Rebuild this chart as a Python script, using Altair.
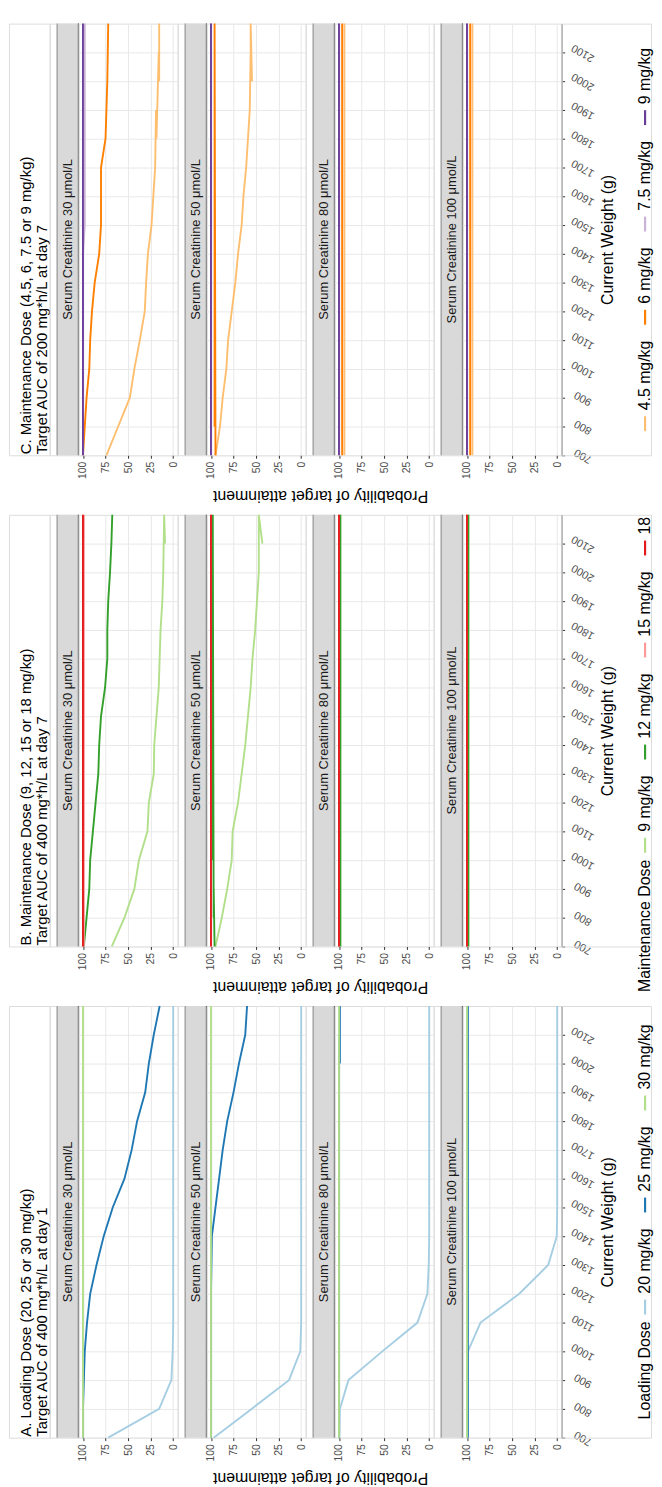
import altair as alt
import pandas as pd

FONT = "Liberation Sans, Arial, Helvetica, sans-serif"

# ---------------- data ----------------
weights = [700, 800, 900, 1000, 1100, 1200, 1300, 1400, 1500, 1600, 1700, 1800, 1900, 2000, 2100, 2200]
creatinine = ["Serum Creatinine 30 \u03bcmol/L", "Serum Creatinine 50 \u03bcmol/L",
              "Serum Creatinine 80 \u03bcmol/L", "Serum Creatinine 100 \u03bcmol/L"]
weight_ticks = [700, 800, 900, 1000, 1100, 1200, 1300, 1400, 1500, 1600, 1700, 1800, 1900, 2000, 2100]
prob_ticks = [0, 25, 50, 75, 100]

# Panel A: loading dose
a_doses = ["20 mg/kg", "25 mg/kg", "30 mg/kg"]
a_colors = ["#a6cee3", "#1f78b4", "#b2df8a"]
a30_20 = [72, 15.5, 2, 0.5, 0, 0, 0, 0, 0, 0, 0, 0, 0, 0, 0, 0]
a30_25 = [100, 100, 99, 98, 95.5, 92, 85, 77, 67, 54, 46, 40, 31, 27, 21.5, 15]
a30_30 = [100, 100, 100, 100, 100, 100, 100, 100, 100, 100, 100, 100, 100, 100, 100, 100]
a50_20 = [97, 55, 13.5, 1, 0, 0, 0, 0, 0, 0, 0, 0, 0, 0, 0, 0]
a50_25 = [100, 100, 100, 100, 100, 100, 99.5, 99, 95, 91, 87, 82, 75, 69, 62, 60]
a50_30 = [100, 100, 100, 100, 100, 100, 100, 100, 100, 100, 100, 100, 100, 100, 100, 100]
a80_20 = [99.5, 99, 89.5, 52, 13, 2, 0.5, 0, 0, 0, 0, 0, 0, 0, 0, 0]
a80_25 = [100, 100, 100, 100, 100, 100, 100, 100, 100, 100, 100, 100, 100, 99, 100, 99]
a80_30 = [100, 100, 100, 100, 100, 100, 100, 100, 100, 100, 100, 100, 100, 100, 100, 100]
a100_20 = [99.5, 99.5, 99.5, 99, 85, 42, 10, 0.5, 0, 0, 0, 0, 0, 0, 0, 0]
a100_25 = [99, 99, 99, 99, 99, 99, 99, 99, 99, 99, 99, 99, 99, 99, 99, 99]
a100_30 = [100, 100, 100, 100, 100, 100, 100, 100, 100, 100, 100, 100, 100, 100, 100, 100]

# Panel B: maintenance dose, target AUC 400
b_doses = ["9 mg/kg", "12 mg/kg", "15 mg/kg", "18 mg/kg"]
b_colors = ["#b2df8a", "#33a02c", "#fb9a99", "#e31a1c"]
b30_9 = [68, 54, 43, 38, 28.5, 27, 21.5, 21, 18.5, 16, 15, 14, 12, 11, 9, 10]
b30_12 = [99, 96, 93, 92, 89, 86, 83, 82, 80, 75.5, 73, 73, 72, 70, 68.5, 67.5]
b30_15 = [99, 99, 99, 99, 99, 99, 99, 99, 99, 99, 99, 99, 99, 99, 99, 99]
b30_18 = [100, 100, 100, 100, 100, 100, 100, 100, 100, 100, 100, 100, 100, 100, 100, 100]
b50_9 = [95, 88, 82, 77, 76, 70, 66, 62, 59, 56, 54, 51, 49, 47, 43, 47]
b50_12 = [96, 97, 97, 98, 98, 98, 98, 98, 98, 98, 98, 98, 98, 98, 98, 98]
b50_15 = [100, 100, 100, 100, 100, 100, 100, 100, 100, 100, 100, 100, 100, 100, 100, 100]
b50_18 = [100, 100, 100, 100, 100, 100, 100, 100, 100, 100, 100, 100, 100, 100, 100, 100]
b80_9 = [98.5, 98.5, 98.5, 98.5, 98.5, 98.5, 98.5, 98.5, 98.5, 98.5, 98.5, 98.5, 98.5, 98.5, 98.5, 98.5]
b80_12 = [98.5, 98.5, 98.5, 98.5, 98.5, 98.5, 98.5, 98.5, 98.5, 98.5, 98.5, 98.5, 98.5, 98.5, 98.5, 98.5]
b80_15 = [100, 100, 100, 100, 100, 100, 100, 100, 100, 100, 100, 100, 100, 100, 100, 100]
b80_18 = [100, 100, 100, 100, 100, 100, 100, 100, 100, 100, 100, 100, 100, 100, 100, 100]
b100_9 = [98.5, 98.5, 98.5, 98.5, 98.5, 98.5, 98.5, 98.5, 98.5, 98.5, 98.5, 98.5, 98.5, 98.5, 98.5, 98.5]
b100_12 = [98.5, 98.5, 98.5, 98.5, 98.5, 98.5, 98.5, 98.5, 98.5, 98.5, 98.5, 98.5, 98.5, 98.5, 98.5, 98.5]
b100_15 = [100, 100, 100, 100, 100, 100, 100, 100, 100, 100, 100, 100, 100, 100, 100, 100]
b100_18 = [100, 100, 100, 100, 100, 100, 100, 100, 100, 100, 100, 100, 100, 100, 100, 100]

# Panel C: maintenance dose, target AUC 200
c_doses = ["4.5 mg/kg", "6 mg/kg", "7.5 mg/kg", "9 mg/kg"]
c_colors = ["#fdbf6f", "#ff7f00", "#cab2d6", "#6a3d9a"]
c30_45 = [74, 61, 48, 43, 37, 31.5, 30, 28, 24, 22, 20, 18.5, 19, 15.5, 16, 15.5]
c30_6 = [100, 98, 96, 93, 92, 90, 87, 82, 80, 80, 80, 75, 74, 73, 72.5, 72]
c30_75 = [100, 100, 100, 100, 100, 100, 100, 100, 98, 98, 98, 98, 98, 98, 98, 98]
c30_9 = [100, 100, 100, 100, 100, 100, 100, 100, 100, 100, 100, 100, 100, 100, 100, 100]
c50_45 = [95, 90, 87, 83, 81, 77, 73, 70, 66, 64, 61, 59, 57, 54.5, 56, 56]
c50_6 = [95, 96, 96, 96, 96, 96, 96, 96, 96, 96, 96, 96, 96, 96, 96, 96]
c50_75 = [100, 100, 100, 100, 100, 100, 100, 100, 100, 100, 100, 100, 100, 100, 100, 100]
c50_9 = [100, 100, 100, 100, 100, 100, 100, 100, 100, 100, 100, 100, 100, 100, 100, 100]
c80_45 = [94, 94, 94, 94, 94, 94, 94, 94, 94, 94, 94, 94, 94, 94, 94, 94]
c80_6 = [96.5, 96.5, 96.5, 96.5, 96.5, 96.5, 96.5, 96.5, 96.5, 96.5, 96.5, 96.5, 96.5, 96.5, 96.5, 96.5]
c80_75 = [100, 100, 100, 100, 100, 100, 100, 100, 100, 100, 100, 100, 100, 100, 100, 100]
c80_9 = [100, 100, 100, 100, 100, 100, 100, 100, 100, 100, 100, 100, 100, 100, 100, 100]
c100_45 = [94, 94, 94, 94, 94, 94, 94, 94, 94, 94, 94, 94, 94, 94, 94, 94]
c100_6 = [96.5, 96.5, 96.5, 96.5, 96.5, 96.5, 96.5, 96.5, 96.5, 96.5, 96.5, 96.5, 96.5, 96.5, 96.5, 96.5]
c100_75 = [100, 100, 100, 100, 100, 100, 100, 100, 100, 100, 100, 100, 100, 100, 100, 100]
c100_9 = [100, 100, 100, 100, 100, 100, 100, 100, 100, 100, 100, 100, 100, 100, 100, 100]

a_title = ["A. Loading Dose (20, 25 or 30 mg/kg)", "Target AUC of 400 mg*h/L at day 1"]
b_title = ["B. Maintenance Dose (9, 12, 15 or 18 mg/kg)", "Target AUC of 400 mg*h/L at day 7"]
c_title = ["C. Maintenance Dose (4.5, 6, 7.5 or 9 mg/kg)", "Target AUC of 200 mg*h/L at day 7"]

# ---------------- layout constants ----------------
PLOT_W = 100
PLOT_H = 435
STRIP_W = 22
GAP = 7
TITLE_W = 41
LEG_W = 90
LEG_X = 84

EM = {" ": .278, ".": .278, ",": .278, "/": .278, "(": .333, ")": .333, "m": .833, "g": .556,
      "k": .5, "L": .556, "o": .556, "a": .556, "d": .556, "i": .222, "n": .556, "D": .722,
      "s": .5, "e": .556, "M": .833, "t": .278, "c": .5}


def text_len(s, fs):
    return sum(EM.get(ch, 0.556) for ch in s) * fs


def strip(label):
    base = alt.Chart(pd.DataFrame({"t": [label]}))
    bg = base.mark_rect(color="#d9d9d9").encode(
        x=alt.value(GAP), x2=alt.value(GAP + STRIP_W), y=alt.value(0), y2=alt.value(PLOT_H))
    lb = base.mark_rule(color="#8c8c8c", strokeWidth=1).encode(
        x=alt.value(GAP + 0.5), y=alt.value(0), y2=alt.value(PLOT_H))
    rb = base.mark_rule(color="#333333", strokeWidth=1.2).encode(
        x=alt.value(GAP + STRIP_W), y=alt.value(0), y2=alt.value(PLOT_H))
    tx = base.mark_text(angle=270, align="center", baseline="middle", fontSize=13,
                        font=FONT, color="#1a1a1a").encode(
        text="t:N", x=alt.value(GAP + STRIP_W / 2 + 0.5), y=alt.value(PLOT_H / 2))
    return alt.layer(bg, lb, rb, tx).properties(width=GAP + STRIP_W, height=PLOT_H)


def plot(series, colors, idx):
    xscale = alt.Scale(domain=[-5, 105], reverse=True, nice=False, zero=False)
    yscale = alt.Scale(domain=[700, 2200], nice=False, zero=False)
    xa = dict(values=prob_ticks, labelAngle=270, labelAlign="right", labelBaseline="middle",
              labelFontSize=10.5, labelColor="#4d4d4d", labelPadding=3, tickSize=3,
              tickColor="#333333", domain=False, grid=True, gridColor="#e8e8e8", gridWidth=1,
              labelFont=FONT, format="d")
    if idx == 0:
        xa.update(title="Probability of target attainment", titleX=243.5, titleY=40,
                  titleAngle=180, titleAlign="center", titleBaseline="middle",
                  titleFontSize=16, titleFontWeight="normal", titleColor="#000000",
                  titleFont=FONT)
    else:
        xa.update(title=None)
    xaxis = alt.Axis(**xa)
    if idx == 3:
        yaxis = alt.Axis(orient="right", values=weight_ticks, format="d", labelAngle=210,
                         labelAlign="center", labelBaseline="middle", labelPadding=18,
                         labelFontSize=11, labelColor="#4d4d4d", labelFont=FONT,
                         tickSize=3, tickColor="#333333", domain=True,
                         domainColor="#333333", grid=True, gridColor="#e8e8e8", gridWidth=1,
                         title="Current Weight (g)", titleX=46, titleY=PLOT_H / 2,
                         titleAngle=270, titleAlign="center", titleBaseline="middle",
                         titleFontSize=16, titleFontWeight="normal", titleColor="#000000",
                         titleFont=FONT)
    else:
        yaxis = alt.Axis(values=weight_ticks, labels=False, ticks=False, domain=False,
                         grid=True, gridColor="#e8e8e8", gridWidth=1, title=None)
    layers = []
    for vals, col in zip(series, colors):
        df = pd.DataFrame({"weight": weights, "prob": vals})
        layers.append(alt.Chart(df).mark_line(color=col, strokeWidth=1.9).encode(
            x=alt.X("prob:Q", scale=xscale, axis=xaxis),
            y=alt.Y("weight:Q", scale=yscale, axis=yaxis)))
    return alt.layer(*layers).properties(width=PLOT_W, height=PLOT_H)


def title_col(lines):
    base = alt.Chart(pd.DataFrame({"t": [lines[0]], "u": [lines[1]]}))
    t1 = base.mark_text(angle=270, align="left", baseline="middle", fontSize=15,
                        font=FONT, color="#000000").encode(
        text="t:N", x=alt.value(17), y=alt.value(PLOT_H - 1))
    t2 = base.mark_text(angle=270, align="left", baseline="middle", fontSize=15,
                        font=FONT, color="#000000").encode(
        text="u:N", x=alt.value(33), y=alt.value(PLOT_H - 1))
    return alt.layer(t1, t2).properties(width=TITLE_W, height=PLOT_H)


def legend_col(title, labels, colors, shown):
    fs = 16
    key, kg, eg, tg = 15, 6, 16, 7
    lens = [text_len(l, fs) for l in labels]
    total = sum(key + kg + L for L in lens) + eg * (len(labels) - 1)
    if title:
        total += text_len(title, fs) + tg
    pos = PLOT_H / 2 + total / 2
    texts, keys = [], []
    if title:
        texts.append({"t": title, "y": pos})
        pos -= text_len(title, fs) + tg
    for L, c, sh in zip(lens, colors, shown):
        keys.append({"y1": pos, "y2": pos - key, "c": c})
        pos -= key + kg
        texts.append({"t": sh, "y": pos})
        pos -= L + eg
    tx = alt.Chart(pd.DataFrame(texts)).mark_text(
        angle=270, align="left", baseline="middle", fontSize=fs, font=FONT,
        color="#000000").encode(text="t:N", y=alt.Y("y:Q", scale=None), x=alt.value(LEG_X))
    kk = alt.Chart(pd.DataFrame(keys)).mark_rule(strokeWidth=2.2).encode(
        y=alt.Y("y1:Q", scale=None), y2="y2:Q", x=alt.value(LEG_X),
        color=alt.Color("c:N", scale=None))
    return alt.layer(kk, tx).properties(width=LEG_W, height=PLOT_H)


def panel(title, facet_series, colors, leg_title, leg_labels, leg_shown):
    cells = [title_col(title)]
    for i, series in enumerate(facet_series):
        cells.append(strip(creatinine[i]))
        cells.append(plot(series, colors, i))
    cells.append(legend_col(leg_title, leg_labels, colors, leg_shown))
    return cells


cells_c = panel(c_title,
                [[c30_45, c30_6, c30_75, c30_9], [c50_45, c50_6, c50_75, c50_9],
                 [c80_45, c80_6, c80_75, c80_9], [c100_45, c100_6, c100_75, c100_9]],
                c_colors, None, c_doses, c_doses)
cells_b = panel(b_title,
                [[b30_9, b30_12, b30_15, b30_18], [b50_9, b50_12, b50_15, b50_18],
                 [b80_9, b80_12, b80_15, b80_18], [b100_9, b100_12, b100_15, b100_18]],
                b_colors, "Maintenance Dose", b_doses,
                ["9 mg/kg", "12 mg/kg", "15 mg/kg", "18"])
cells_a = panel(a_title,
                [[a30_20, a30_25, a30_30], [a50_20, a50_25, a50_30],
                 [a80_20, a80_25, a80_30], [a100_20, a100_25, a100_30]],
                a_colors, "Loading Dose", a_doses, a_doses)

chart = alt.concat(*(cells_c + cells_b + cells_a), columns=10,
                   spacing={"row": 495 - PLOT_H, "column": 0}, bounds="flush").properties(
    padding={"left": 0, "top": 5, "right": 0, "bottom": 0}
).configure_view(stroke=None).configure(font=FONT)

chart.save("out.html", embed_options={"renderer": "svg", "actions": False})
